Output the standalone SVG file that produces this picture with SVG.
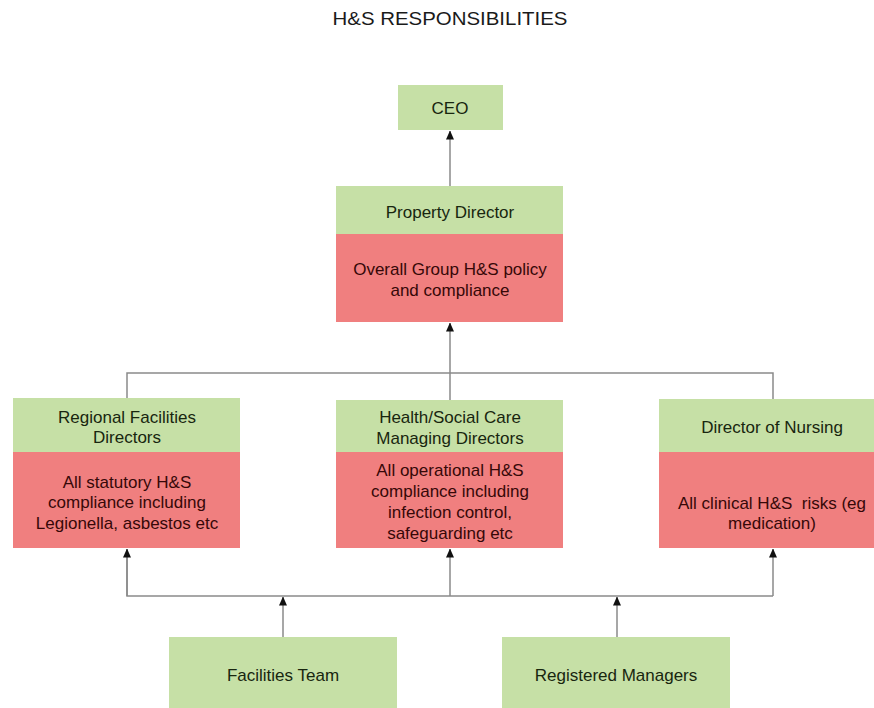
<svg xmlns="http://www.w3.org/2000/svg" width="874" height="708" viewBox="0 0 874 708">
<defs>
<style>
.g{fill:#c6e0a6;}
.r{fill:#f07f7f;}
text{font-family:"Liberation Sans",Arial,sans-serif;font-size:17px;text-anchor:middle;}
.tg{fill:#18260f;}
.tr{fill:#360808;}
.title{font-size:18.5px;fill:#1a1a1a;}
.c{stroke:#8a8a8a;stroke-width:1.5;fill:none;}
.ca{stroke:#8a8a8a;stroke-width:1.5;fill:none;marker-end:url(#ah);}
</style>
<marker id="ah" markerUnits="userSpaceOnUse" markerWidth="9" markerHeight="8" refX="8.5" refY="4" orient="auto" viewBox="0 0 9 8">
<path d="M0,0 L9,4 L0,8 Z" fill="#111"/>
</marker>
</defs>
<rect width="874" height="708" fill="#fff"/>
<text class="title" x="450" y="25" textLength="235" lengthAdjust="spacingAndGlyphs">H&amp;S RESPONSIBILITIES</text>

<g id="connectors">
<line class="ca" x1="450" y1="186" x2="450" y2="131"/>
<line class="ca" x1="450" y1="400" x2="450" y2="323"/>
<polyline class="c" points="127,398 127,373 773,373 773,399"/>
<polyline class="c" points="283,596 127,596 127,549"/>
<line class="ca" x1="127" y1="596" x2="127" y2="549"/>
<line class="ca" x1="450" y1="596" x2="450" y2="549"/>
<polyline class="c" points="283,596 773,596"/>
<line class="ca" x1="773" y1="596" x2="773" y2="549"/>
<line class="ca" x1="283" y1="637" x2="283" y2="597"/>
<line class="ca" x1="617" y1="637" x2="617" y2="597"/>
</g>

<g id="ceo">
<rect class="g" x="398" y="85" width="105" height="45"/>
<text class="tg" x="450" y="114">CEO</text>
</g>

<g id="property-director">
<rect class="g" x="336" y="186" width="227" height="48"/>
<rect class="r" x="336" y="234" width="227" height="88"/>
<text class="tg" x="450" y="218">Property Director</text>
<text class="tr" x="450" y="275">Overall Group H&amp;S policy</text>
<text class="tr" x="450" y="296">and compliance</text>
</g>

<g id="regional-facilities-directors">
<rect class="g" x="13" y="398" width="227" height="54"/>
<rect class="r" x="13" y="452" width="227" height="96"/>
<text class="tg" x="127" y="423">Regional Facilities</text>
<text class="tg" x="127" y="443">Directors</text>
<text class="tr" x="127" y="488">All statutory H&amp;S</text>
<text class="tr" x="127" y="508">compliance including</text>
<text class="tr" x="127" y="529">Legionella, asbestos etc</text>
</g>

<g id="managing-directors">
<rect class="g" x="336" y="400" width="227" height="52"/>
<rect class="r" x="336" y="452" width="227" height="96"/>
<text class="tg" x="450" y="423">Health/Social Care</text>
<text class="tg" x="450" y="444">Managing Directors</text>
<text class="tr" x="450" y="476">All operational H&amp;S</text>
<text class="tr" x="450" y="497">compliance including</text>
<text class="tr" x="450" y="518">infection control,</text>
<text class="tr" x="450" y="539">safeguarding etc</text>
</g>

<g id="director-of-nursing">
<rect class="g" x="659" y="399" width="227" height="53"/>
<rect class="r" x="659" y="452" width="227" height="96"/>
<text class="tg" x="772" y="433">Director of Nursing</text>
<text class="tr" x="772" y="509" xml:space="preserve">All clinical H&amp;S  risks (eg</text>
<text class="tr" x="772" y="529">medication)</text>
</g>

<g id="facilities-team">
<rect class="g" x="169" y="637" width="228" height="75"/>
<text class="tg" x="283" y="681">Facilities Team</text>
</g>

<g id="registered-managers">
<rect class="g" x="502" y="637" width="228" height="75"/>
<text class="tg" x="616" y="681">Registered Managers</text>
</g>
</svg>
